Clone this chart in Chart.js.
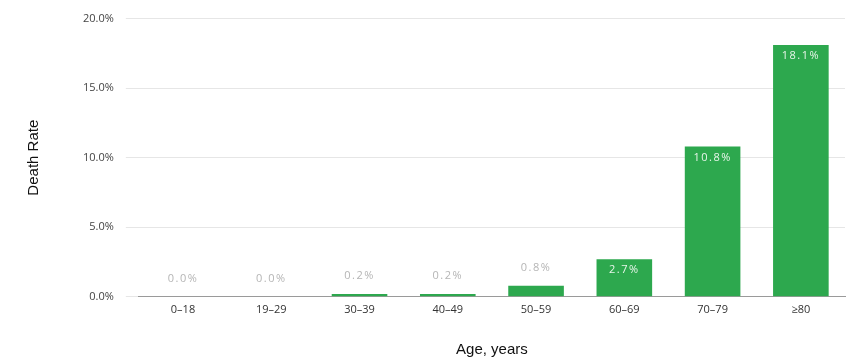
<!DOCTYPE html>
<html>
<head>
<meta charset="utf-8">
<script src="https://cdn.jsdelivr.net/npm/chart.js@4.4.0/dist/chart.umd.min.js"></script>
<style>
  html, body { margin: 0; padding: 0; background: #fff; }
  #wrap { width: 856px; height: 357px; }
</style>
</head>
<body>
<div id="wrap"><canvas id="myChart"></canvas></div>
<script>
// 데이터
const ageGroups = ['0–18', '19–29', '30–39', '40–49', '50–59', '60–69', '70–79', '≥80'];
const deathRates = [0.0, 0.0, 0.2, 0.2, 0.8, 2.7, 10.8, 18.1];
const yTicks = [0, 5, 10, 15, 20];

// 막대 위/안에 값 표시
const valueLabels = {
    id: 'valueLabels',
    afterDatasetsDraw(chart) {
        const ctx = chart.ctx;
        const meta = chart.getDatasetMeta(0);
        ctx.save();
        ctx.font = '11px "Open Sans", sans-serif';
        ctx.letterSpacing = '1.5px';
        ctx.textAlign = 'center';
        ctx.textBaseline = 'middle';
        meta.data.forEach((bar, i) => {
            const v = deathRates[i];
            const text = v.toFixed(1) + '%';
            if (v >= 2) {
                ctx.fillStyle = '#e8f5ea';
                ctx.fillText(text, bar.x, bar.y + 11);
            } else {
                ctx.fillStyle = '#b5b5b5';
                ctx.fillText(text, bar.x, bar.y - 18);
            }
        });
        ctx.restore();
    }
};

const ctx = document.getElementById('myChart').getContext('2d');
const chart = new Chart(ctx, {
    type: 'bar',
    data: {
        labels: ageGroups,
        datasets: [{
            label: 'Death Rate',
            data: deathRates,
            backgroundColor: '#2da84e',
            barPercentage: 0.63,
            categoryPercentage: 1.0
        }]
    },
    options: {
        responsive: true,
        maintainAspectRatio: false,
        animation: false,
        layout: { padding: { top: 17, right: 11, left: 25, bottom: 0 } },
        plugins: {
            legend: { display: false },
            tooltip: { enabled: false }
        },
        scales: {
            x: {
                grid: { display: false, tickLength: 0 },
                border: { color: '#9a9a9a' },
                ticks: {
                    color: '#333',
                    font: { family: 'Open Sans', size: 11 },
                    padding: 6
                },
                title: {
                    display: true,
                    text: 'Age, years',
                    color: '#111',
                    font: { family: 'Liberation Sans', size: 15, lineHeight: 1 },
                    padding: { top: 20, bottom: 0 }
                }
            },
            y: {
                min: 0,
                max: 20,
                afterBuildTicks(axis) {
                    axis.ticks = yTicks.map(v => ({ value: v }));
                },
                grid: { color: '#e6e6e6', tickLength: 13 },
                border: { display: false },
                ticks: {
                    color: '#444',
                    font: { family: 'Open Sans', size: 11 },
                    padding: 12,
                    callback: v => v.toFixed(1) + '%'
                },
                title: {
                    display: true,
                    text: 'Death Rate',
                    color: '#111',
                    font: { family: 'Liberation Sans Narrow, Liberation Sans', size: 15 },
                    padding: { top: 0, bottom: 28 }
                }
            }
        }
    },
    plugins: [valueLabels]
});
</script>
</body>
</html>
